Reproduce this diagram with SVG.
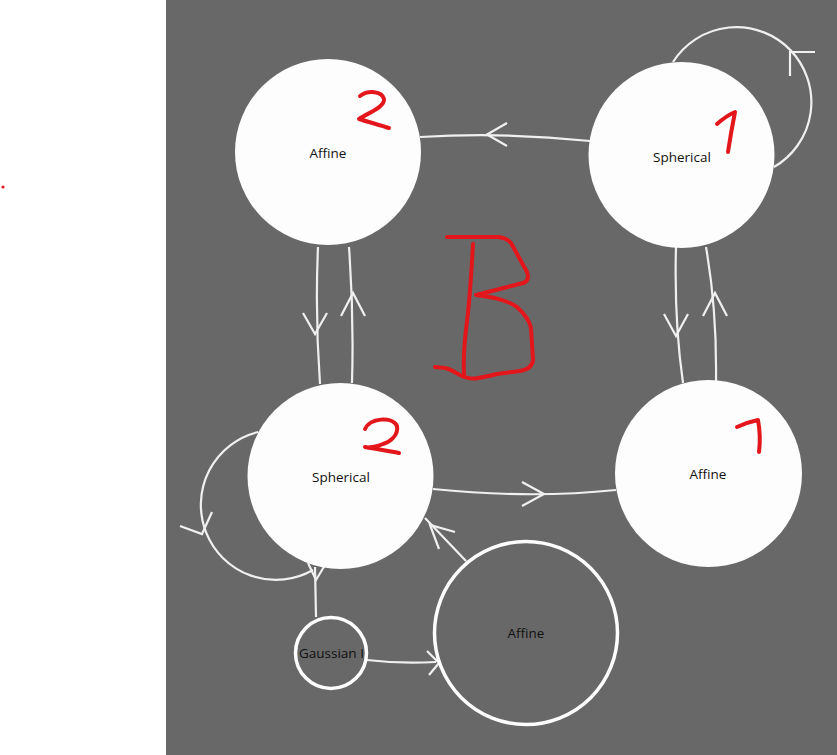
<svg xmlns="http://www.w3.org/2000/svg" width="837" height="755" viewBox="0 0 837 755">
<defs>
<style>
.bg{fill:#686868}
.node{fill:#fdfdfd}
.hollow{fill:#686868;stroke:#fdfdfd;stroke-width:3.5}
.lbl{font-family:"Open Sans","Liberation Sans",sans-serif;font-size:13.5px;fill:#111;text-anchor:middle}
.edge{fill:none;stroke:#f0f0f0;stroke-width:2.2}
.head{fill:none;stroke:#f0f0f0;stroke-width:2.2;stroke-linecap:butt;stroke-linejoin:miter}
.ink{fill:none;stroke:#e3161b;stroke-width:4;stroke-linecap:round;stroke-linejoin:round}
</style>
</defs>
<rect x="0" y="0" width="837" height="755" fill="#ffffff"/>
<rect class="bg" x="166" y="0" width="671" height="755"/>
<circle cx="3" cy="187" r="1.6" fill="#e3161b"/>

<g id="connectors">
<path class="edge" d="M 590 141 Q 505 132 420 137"/>
<path class="head" d="M 507 123 L 487 134.5 L 507 146"/>
<path class="edge" d="M 318 247 Q 315 315 320 384"/>
<path class="head" d="M 303 313 L 315 334 L 327 313"/>
<path class="edge" d="M 352 383 Q 354 315 349 247"/>
<path class="head" d="M 341 316 L 353 293 L 365 316"/>
<path class="edge" d="M 676 247 Q 674 320 683 383"/>
<path class="head" d="M 664 314 L 676 336 L 688 314"/>
<path class="edge" d="M 716 381 Q 717 310 706 247"/>
<path class="head" d="M 703 316 L 715 293 L 727 316"/>
<path class="edge" d="M 433 489 Q 530 499 616 490"/>
<path class="head" d="M 522 482 L 544 494 L 522 506"/>
<path class="edge" d="M 774 167 A 75 75 0 1 0 673 62"/>
<path class="head" d="M 790 76 L 790 52 L 815 52"/>
<path class="edge" d="M 258 432 A 75 75 0 1 0 313 570"/>
<path class="head" d="M 180 526 L 202 534 L 212 512"/>
<path class="edge" d="M 315 567 L 316 617"/>
<path class="head" d="M 308 563 L 316 580 L 325 565"/>
<path class="edge" d="M 367 660 Q 400 664 436 662"/>
<path class="head" d="M 427 651 L 439 663 L 429 675"/>
<path class="edge" d="M 466 561 L 425 518"/>
<path class="head" d="M 439 549 L 430 525 L 455 532"/>
</g>

<g id="node-affine-tl">
<circle class="node" cx="328" cy="152" r="93"/>
<text class="lbl" x="328" y="158">Affine</text>
</g>
<g id="node-spherical-tr">
<circle class="node" cx="681.5" cy="155" r="93"/>
<text class="lbl" x="682" y="162">Spherical</text>
</g>
<g id="node-spherical-bl">
<circle class="node" cx="340.5" cy="476" r="93"/>
<text class="lbl" x="341" y="482">Spherical</text>
</g>
<g id="node-affine-br">
<circle class="node" cx="708.5" cy="473.5" r="93.5"/>
<text class="lbl" x="708" y="479">Affine</text>
</g>
<g id="node-affine-b">
<circle class="hollow" cx="526" cy="633" r="91.5"/>
<text class="lbl" x="526" y="638">Affine</text>
</g>
<g id="node-gaussian">
<circle class="hollow" cx="331" cy="653" r="35.5"/>
<text class="lbl" x="299" y="658" style="text-anchor:start">Gaussian I</text>
</g>

<g id="annotations">
<path class="ink" d="M 360 96 C 368 90 382 91 384 99 C 385 107 368 113 359 119 C 368 122 380 125 389 128"/>
<path class="ink" d="M 717 124 Q 726 116 735 112 Q 731 132 728 152"/>
<path class="ink" d="M 365 429 C 370 418 392 416 397 426 C 399 436 388 443 383 444 C 376 447 368 448 365 447 C 376 449 390 451 399 453"/>
<path class="ink" d="M 737 427 Q 748 422 758 420 Q 761 436 759 452"/>
<path class="ink" d="M 447 237 L 498 237 Q 507 238 511 243 L 527 272 Q 530 281 523 283 L 476 295 Q 504 298 517 307 Q 529 318 531 328 L 533 360 Q 532 369 520 371 L 497 374 Q 485 377 478 378 Q 470 380 460 375 Q 450 369 445 368 L 435 367"/>
<path class="ink" d="M 473 244 Q 470 300 466 330 Q 463 355 464 374"/>
</g>
</svg>
